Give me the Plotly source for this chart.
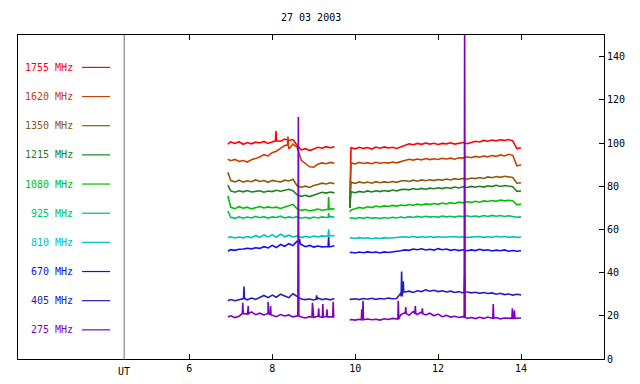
import plotly.graph_objects as go

# ---------------- data ----------------
freq_labels = ["1755 MHz", "1620 MHz", "1350 MHz", "1215 MHz", "1080 MHz",
               "925 MHz", "810 MHz", "670 MHz", "405 MHz", "275 MHz"]
colors = ["#ff0000", "#c84000", "#8c5a08", "#208020", "#00c000",
          "#00c060", "#00c0c0", "#1010f0", "#2020c0", "#8000c0"]

# time grid (UT hours) for the two observing segments
t_a = [6.93] + [round(7.0 + 0.1 * i, 2) for i in range(26)]
t_b = [9.87] + [round(9.9 + 0.1 * i, 2) for i in range(42)]

f1755_a = [99.5, 100.5, 99.8, 100.6, 99.4, 100.2, 99.6, 100.4, 100.0, 100.7, 99.8, 100.5, 102.0, 100.8,
           101.8, 101.2, 101.6, 99.0, 96.8, 97.4, 96.5, 97.2, 98.0, 97.6, 98.3, 97.8, 98.2]
f1755_b = [70.0, 97.8, 97.3, 98.0, 97.5, 97.9, 97.2, 98.1, 97.6, 98.2, 97.7, 98.0, 97.5, 98.3, 98.8,
           99.6, 99.2, 99.8, 99.4, 100.0, 99.5, 99.9, 99.3, 99.8, 99.6, 100.1, 99.5, 99.9, 100.2, 99.7,
           100.3, 100.8, 100.5, 101.2, 100.8, 101.4, 101.0, 101.5, 101.2, 101.6, 101.0, 97.4, 97.8]

f1620_a = [92.5, 91.8, 92.4, 91.5, 91.9, 91.2, 92.2, 92.8, 93.5, 94.6, 94.0, 95.5, 96.2, 97.5,
           98.8, 97.2, 99.5, 98.0, 92.0, 90.5, 89.0, 88.8, 90.2, 90.8, 90.4, 91.0, 90.6]
f1620_b = [70.0, 90.8, 90.3, 91.0, 90.5, 90.9, 90.4, 91.1, 90.6, 91.0, 90.7, 91.2, 90.8, 91.4, 92.0,
           92.5, 92.1, 92.6, 92.2, 92.8, 92.3, 92.7, 92.4, 92.9, 92.6, 93.0, 92.5, 93.2, 93.0, 93.6,
           93.2, 93.8, 93.4, 94.0, 93.6, 94.2, 93.8, 94.5, 94.0, 94.8, 94.3, 89.4, 89.8]

f1350_a = [86.5, 82.6, 82.0, 82.8, 81.9, 82.5, 82.1, 82.9, 82.2, 82.6, 81.8, 82.7, 82.3, 82.0,
           82.8, 82.4, 83.2, 80.2, 79.5, 80.0, 79.4, 80.3, 80.8, 81.4, 81.0, 81.6, 81.2]
f1350_b = [70.0, 81.8, 81.3, 82.0, 81.5, 81.9, 81.4, 82.1, 81.6, 82.0, 81.7, 82.2, 81.8, 82.4, 82.6,
           82.2, 82.8, 82.3, 82.9, 82.5, 83.0, 82.6, 83.1, 82.8, 83.3, 82.9, 83.5, 83.1, 83.6, 83.2,
           83.8, 83.5, 84.0, 83.6, 84.3, 83.9, 84.5, 84.1, 84.6, 84.2, 84.0, 81.4, 81.6]

f1215_a = [80.5, 77.8, 77.2, 77.9, 77.4, 78.0, 77.3, 77.6, 77.9, 77.2, 77.8, 77.5, 78.1, 77.7,
           78.0, 78.6, 77.9, 76.0, 75.3, 75.8, 75.2, 75.7, 76.5, 77.2, 76.8, 77.3, 76.9]
f1215_b = [70.0, 77.4, 77.0, 77.6, 77.2, 77.8, 77.3, 77.9, 77.5, 78.0, 77.6, 78.2, 77.8, 78.4, 78.6,
           78.3, 78.9, 78.5, 79.0, 78.6, 79.1, 78.8, 79.3, 78.9, 79.4, 79.0, 79.6, 79.2, 79.7, 79.4,
           79.9, 79.5, 80.0, 79.6, 80.2, 79.8, 80.4, 79.9, 80.3, 80.0, 79.8, 77.6, 77.8]

f1080_a = [75.5, 70.2, 69.6, 70.5, 69.8, 70.3, 69.5, 70.1, 70.6, 69.9, 70.4, 70.0, 70.3, 69.7,
           70.2, 71.0, 71.6, 69.5, 68.8, 69.2, 68.5, 69.0, 69.4, 68.9, 69.3, 69.6, 69.4]
f1080_b = [68.0, 69.0, 69.6, 70.2, 69.8, 70.5, 70.1, 70.8, 70.4, 70.9, 70.6, 71.1, 70.8, 71.3, 71.0,
           71.5, 71.2, 71.7, 71.3, 71.8, 71.5, 72.0, 71.6, 72.2, 71.8, 72.4, 72.0, 72.6, 72.3, 72.8,
           72.5, 73.0, 72.6, 73.2, 72.9, 73.4, 73.0, 73.6, 73.2, 73.5, 73.3, 71.4, 71.8]

f925_a = [68.5, 65.6, 65.1, 65.8, 65.2, 65.7, 65.3, 66.0, 65.4, 65.9, 65.2, 65.8, 65.5, 66.1,
          65.3, 65.8, 65.4, 65.9, 65.2, 65.6, 65.1, 65.7, 65.3, 65.8, 65.5, 66.0, 65.6]
f925_b = [65.0, 65.4, 65.0, 65.5, 65.1, 65.6, 65.2, 65.4, 65.0, 65.5, 65.2, 65.6, 65.3, 65.7, 65.4,
          65.9, 65.5, 66.0, 65.6, 66.1, 65.7, 66.0, 65.6, 66.2, 65.8, 66.1, 65.7, 66.2, 65.9, 66.3,
          65.9, 66.2, 65.8, 66.4, 66.0, 66.5, 66.1, 66.4, 66.0, 66.3, 66.0, 65.6, 65.8]

f810_a = [56.2, 56.6, 56.0, 56.5, 56.1, 56.7, 56.2, 57.2, 56.3, 57.4, 56.5, 57.6, 56.4, 57.8,
          56.6, 57.3, 56.5, 57.0, 56.2, 56.8, 56.3, 56.9, 56.5, 57.0, 56.8, 57.2, 57.0]
f810_b = [56.0, 56.1, 55.8, 56.2, 55.9, 56.1, 55.7, 56.0, 55.8, 56.2, 55.9, 56.1, 56.0, 56.3, 56.6,
          56.4, 56.7, 56.3, 56.6, 56.4, 56.7, 56.3, 56.6, 56.4, 56.5, 56.3, 56.7, 56.4, 56.6, 56.3,
          56.5, 56.4, 56.7, 56.3, 56.6, 56.4, 56.8, 56.5, 56.7, 56.4, 56.6, 56.3, 56.5]

f670_a = [50.0, 50.6, 50.3, 50.8, 50.9, 51.3, 51.0, 51.5, 51.2, 52.0, 51.4, 52.6, 51.6, 53.0,
          52.2, 53.4, 52.5, 54.5, 53.0, 52.0, 52.6, 51.8, 52.3, 51.9, 52.2, 52.0, 52.4]
f670_b = [49.2, 49.4, 49.1, 49.5, 49.2, 49.6, 49.3, 49.5, 49.1, 49.6, 49.3, 49.5, 49.8, 50.1, 50.5,
          50.3, 50.9, 50.6, 51.0, 50.5, 50.8, 50.4, 51.1, 50.6, 50.9, 50.3, 50.7, 50.2, 50.6, 50.1,
          50.5, 50.2, 50.8, 50.3, 50.6, 50.0, 50.4, 50.1, 50.5, 49.9, 50.2, 49.9, 50.1]

f405_a = [27.0, 27.5, 27.0, 27.6, 28.0, 27.4, 28.2, 27.6, 28.6, 29.4, 28.4, 29.6, 28.6, 30.0,
          29.2, 28.4, 30.2, 29.0, 27.8, 27.5, 27.8, 27.3, 28.2, 27.5, 27.9, 27.4, 28.0]
f405_b = [27.8, 27.6, 27.9, 27.5, 28.0, 27.7, 28.1, 27.6, 28.0, 27.8, 28.2, 27.9, 28.0, 30.5, 31.0,
          31.4, 30.8, 31.6, 31.2, 32.0, 31.4, 31.8, 31.2, 31.6, 31.0, 31.4, 30.8, 31.2, 30.6, 31.0,
          30.6, 30.9, 30.4, 30.8, 30.3, 30.6, 30.0, 30.4, 29.8, 30.1, 29.6, 30.0, 29.7]

f275_a = [19.5, 20.0, 19.2, 19.8, 21.5, 20.8, 21.8, 20.5, 21.2, 20.4, 21.6, 20.2, 19.6, 20.6,
          19.9, 20.4, 19.5, 20.0, 19.4, 19.0, 19.6, 19.2, 19.8, 19.3, 19.7, 19.5, 19.8]
f275_b = [18.0, 18.3, 18.0, 18.4, 18.1, 18.5, 18.2, 18.4, 18.0, 18.6, 18.3, 18.8, 18.4, 20.5, 21.5,
          20.2, 22.0, 20.6, 21.8, 20.4, 21.2, 20.0, 20.8, 19.6, 20.2, 19.4, 19.8, 19.2, 19.6, 18.8,
          19.2, 18.7, 19.3, 18.8, 19.4, 18.9, 19.2, 18.6, 19.0, 18.7, 19.1, 18.8, 19.0]

# narrow bursts: (time UT, level, peak)
sp_1755 = [(8.09, 101.0, 105.5)]
sp_1620 = [(8.38, 99.0, 103.0)]
sp_1350 = []
sp_1215 = []
sp_1080 = [(9.36, 69.3, 75.0)]
sp_925 = [(9.36, 65.5, 67.5)]
sp_810 = [(9.36, 57.0, 60.0)]
sp_670 = [(8.66, 53.5, 55.5), (9.36, 52.1, 56.5)]
sp_405 = [(7.32, 28.0, 33.5), (9.07, 27.6, 29.5), (11.12, 29.0, 40.5), (11.16, 31.0, 36.0),
          (12.64, 31.0, 38.5)]
sp_275 = [(7.29, 21.0, 26.0), (7.42, 21.0, 24.5), (7.90, 21.0, 26.5), (7.96, 20.5, 24.5),
          (8.63, 20.0, 112.0), (8.97, 19.4, 26.0), (9.12, 19.6, 23.5), (9.22, 19.4, 25.5),
          (9.32, 19.5, 23.0), (9.47, 19.6, 26.5), (10.16, 18.2, 23.0), (10.19, 18.2, 27.0),
          (11.04, 18.5, 27.0), (11.22, 21.0, 24.0), (11.45, 21.0, 24.5), (11.62, 21.0, 23.5),
          (12.64, 19.4, 160.0), (13.33, 18.9, 25.5), (13.79, 18.8, 23.5), (13.84, 18.8, 22.5)]

series = [
    (f1755_a, f1755_b, sp_1755), (f1620_a, f1620_b, sp_1620), (f1350_a, f1350_b, sp_1350),
    (f1215_a, f1215_b, sp_1215), (f1080_a, f1080_b, sp_1080), (f925_a, f925_b, sp_925),
    (f810_a, f810_b, sp_810), (f670_a, f670_b, sp_670), (f405_a, f405_b, sp_405),
    (f275_a, f275_b, sp_275),
]

ut_line = 4.43
legend_levels = [135, 121.5, 108, 94.5, 81, 67.5, 54, 40.5, 27, 13.5]

FONT = "DejaVu Sans Mono"

fig = go.Figure()


def segment(times, vals, spikes):
    pts = list(zip(times, vals))
    lo, hi = times[0], times[-1]
    hw = 0.012
    for (ts, base, peak) in spikes:
        if lo <= ts <= hi:
            pts += [(ts - hw, base), (ts, peak), (ts + hw, base)]
    pts.sort(key=lambda p: p[0])
    return [p[0] for p in pts], [p[1] for p in pts]


for (va, vb, sp), col, name in zip(series, colors, freq_labels):
    assert len(va) == len(t_a), name
    assert len(vb) == len(t_b), name
    xa, ya = segment(t_a, va, sp)
    xb, yb = segment(t_b, vb, sp)
    fig.add_trace(go.Scatter(x=xa + [None] + xb, y=ya + [None] + yb, mode="lines",
                             line=dict(color=col, width=1.6), name=name,
                             connectgaps=False, showlegend=False, hoverinfo="skip"))

# legend drawn inside the plot, left
for lab, col, lev in zip(freq_labels, colors, legend_levels):
    fig.add_annotation(x=3.25, y=lev, xref="x", yref="y", text=lab, showarrow=False,
                       xanchor="right", yanchor="middle",
                       font=dict(family=FONT, size=10, color=col))
    fig.add_shape(type="line", x0=3.415, x1=4.09, y0=lev, y1=lev, xref="x", yref="y",
                  line=dict(color=col, width=1.2))

# UT marker line
fig.add_shape(type="line", x0=ut_line, x1=ut_line, y0=0, y1=1, xref="x", yref="paper",
              line=dict(color="#707070", width=1))
fig.add_annotation(x=ut_line, y=0, xref="x", yref="paper", yshift=-12, yanchor="middle",
                   text="UT", showarrow=False, font=dict(family=FONT, size=10, color="black"))

fig.add_annotation(x=0.5, y=1.0, xref="paper", yref="paper", yshift=18, yanchor="middle",
                   text="27 03 2003", showarrow=False,
                   font=dict(family=FONT, size=10, color="black"))

fig.update_layout(
    width=640, height=384,
    margin=dict(l=18, r=36, t=35, b=25),
    paper_bgcolor="white", plot_bgcolor="white",
    font=dict(family=FONT, size=10, color="black"),
    xaxis=dict(range=[1.87, 16.0], tickvals=[6, 8, 10, 12, 14], ticks="inside", ticklen=5,
               tickcolor="black", showline=True, linecolor="black", linewidth=1,
               mirror="ticks", showgrid=False, zeroline=False, automargin=False),
    yaxis=dict(range=[0, 150], tickvals=[0, 20, 40, 60, 80, 100, 120, 140], side="right",
               ticks="inside", ticklen=5, tickcolor="black", showline=True,
               linecolor="black", linewidth=1, mirror=True, showgrid=False, zeroline=False,
               automargin=False),
)

fig.write_html("out.html", config={"displayModeBar": False},
               post_script="document.body.style.margin='0px';")
